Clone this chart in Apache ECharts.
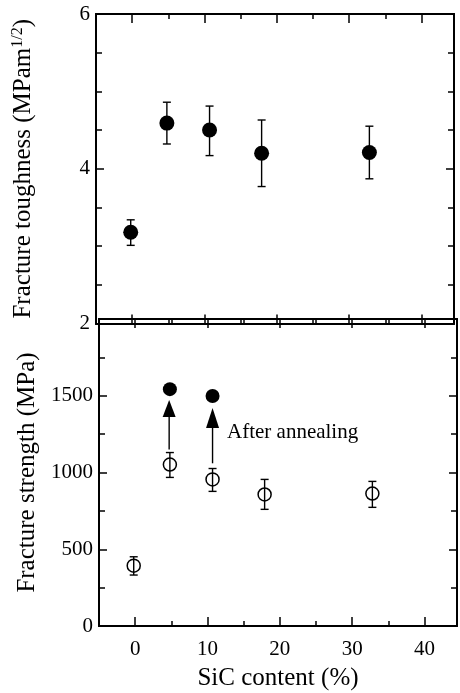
<!DOCTYPE html>
<html>
<head>
<meta charset="utf-8">
<script src="https://cdn.jsdelivr.net/npm/echarts@6/dist/echarts.min.js"></script>
<style>
html,body{margin:0;padding:0;background:#fff;}
#chart{width:460px;height:693px;}
</style>
</head>
<body>
<div id="chart"></div>
<script>
// ---- data ----
const sicX = [-0.2, 4.8, 10.7, 17.9, 32.8];
const toughness = [3.18, 4.59, 4.50, 4.20, 4.21];
const toughLo = [3.01, 4.32, 4.17, 3.77, 3.87];
const toughHi = [3.34, 4.86, 4.81, 4.63, 4.55];
const strength = [393, 1052, 955, 857, 863];
const strengthLo = [332, 968, 877, 760, 773];
const strengthHi = [451, 1130, 1026, 955, 942];
const annealX = [4.8, 10.7];
const annealStrength = [1543, 1498];
const arrowX = [4.7, 10.7];
const arrowFrom = [1150, 1060];
const arrowBase = [1362, 1290];
const arrowTip = [1472, 1420];
const xMajorTicks = [0, 10, 20, 30, 40];
const xMinorTicks = [5, 15, 25, 35];
const annotationText = 'After annealing';

const FONT = 'Liberation Serif';
const black = '#000';

function xAx(gridIndex, position, values, len, labels) {
  return {
    type: 'value', gridIndex, position, min: -5, max: 44.5,
    axisLine: {show: true, onZero: false, lineStyle: {color: black, width: 2}},
    axisTick: {show: true, inside: true, length: len, customValues: values, lineStyle: {color: black, width: 1.5}},
    axisLabel: labels ? {show: true, customValues: values, color: black, fontFamily: FONT, fontSize: 21, margin: 13} : {show: false},
    splitLine: {show: false}
  };
}

const xAxes = [
  xAx(0, 'bottom', xMajorTicks, 9, false),
  xAx(0, 'top', xMajorTicks, 9, false),
  xAx(1, 'bottom', xMajorTicks, 9, true),
  xAx(1, 'top', xMajorTicks, 9, false),
  xAx(0, 'bottom', xMinorTicks, 5, false),
  xAx(0, 'top', xMinorTicks, 5, false),
  xAx(1, 'bottom', xMinorTicks, 5, false),
  xAx(1, 'top', xMinorTicks, 5, false)
];
xAxes[2].name = 'SiC content (%)';
xAxes[2].nameLocation = 'middle';
xAxes[2].nameGap = 40;
xAxes[2].nameTextStyle = {color: black, fontFamily: FONT, fontSize: 25};

function yAx(gridIndex, position, min, max, interval, minorSplit, labels, fmt) {
  return {
    type: 'value', gridIndex, position, min, max, interval,
    axisLine: {show: true, onZero: false, lineStyle: {color: black, width: 2}},
    axisTick: {show: true, inside: true, length: 8, lineStyle: {color: black, width: 1.5}},
    minorTick: {show: true, splitNumber: minorSplit, length: 6, lineStyle: {color: black, width: 1.5}},
    axisLabel: labels ? {show: true, color: black, fontFamily: FONT, fontSize: 21, margin: 6, formatter: fmt} : {show: false},
    splitLine: {show: false}, minorSplitLine: {show: false}
  };
}

const yAxes = [
  yAx(0, 'left', 2, 6, 2, 4, true, v => String(v)),
  yAx(1, 'left', 0, 2000, 500, 2, true, v => v === 2000 ? '' : String(v)),
  yAx(0, 'right', 2, 6, 2, 4, false),
  yAx(1, 'right', 0, 2000, 500, 2, false)
];
yAxes[0].name = 'Fracture toughness (MPam{sup|1/2})';
yAxes[0].nameLocation = 'middle';
yAxes[0].nameGap = 60;
yAxes[0].nameTextStyle = {color: black, fontFamily: FONT, fontSize: 25,
  rich: {sup: {fontFamily: FONT, fontSize: 16, verticalAlign: 'top', padding: [0, 0, 10, 0], color: black}}};
yAxes[1].name = 'Fracture strength (MPa)';
yAxes[1].nameLocation = 'middle';
yAxes[1].nameGap = 58;
yAxes[1].nameTextStyle = {color: black, fontFamily: FONT, fontSize: 25};

function errRender(params, api) {
  const x = api.value(0), lo = api.value(1), hi = api.value(2);
  const p1 = api.coord([x, lo]), p2 = api.coord([x, hi]);
  const c = 4;
  const st = {stroke: black, lineWidth: 1.4};
  return {type: 'group', children: [
    {type: 'line', shape: {x1: p1[0], y1: p1[1], x2: p2[0], y2: p2[1]}, style: st},
    {type: 'line', shape: {x1: p2[0] - c, y1: p2[1], x2: p2[0] + c, y2: p2[1]}, style: st},
    {type: 'line', shape: {x1: p1[0] - c, y1: p1[1], x2: p1[0] + c, y2: p1[1]}, style: st}
  ]};
}

function arrowRender(params, api) {
  const x = api.value(0);
  const a = api.coord([x, api.value(1)]);
  const b = api.coord([x, api.value(2)]);
  const t = api.coord([x, api.value(3)]);
  const w = 6.5;
  return {type: 'group', children: [
    {type: 'line', shape: {x1: a[0], y1: a[1], x2: b[0], y2: b[1]}, style: {stroke: black, lineWidth: 1.4}},
    {type: 'polygon', shape: {points: [[b[0] - w, b[1]], [b[0] + w, b[1]], [t[0], t[1]]]}, style: {fill: black}}
  ]};
}

const option = {
  backgroundColor: '#fff',
  animation: false,
  grid: [
    {left: 96, right: 6, top: 14, height: 309.5},
    {left: 99, right: 3, top: 319, height: 307}
  ],
  xAxis: xAxes,
  yAxis: yAxes,
  graphic: [{
    type: 'text', left: 227, top: 422,
    style: {text: annotationText, fill: black, font: '21px "Liberation Serif"'}
  }],
  series: [
    {type: 'custom', xAxisIndex: 0, yAxisIndex: 0, renderItem: errRender,
     encode: {x: 0, y: [1, 2]}, data: sicX.map((x, i) => [x, toughLo[i], toughHi[i]]), z: 2},
    {type: 'scatter', xAxisIndex: 0, yAxisIndex: 0, symbol: 'circle', symbolSize: 15,
     itemStyle: {color: black, opacity: 1}, data: sicX.map((x, i) => [x, toughness[i]]), z: 3},
    {type: 'custom', xAxisIndex: 2, yAxisIndex: 1, renderItem: errRender,
     encode: {x: 0, y: [1, 2]}, data: sicX.map((x, i) => [x, strengthLo[i], strengthHi[i]]), z: 2},
    {type: 'scatter', xAxisIndex: 2, yAxisIndex: 1, symbol: 'circle', symbolSize: 13,
     itemStyle: {color: 'rgba(0,0,0,0)', borderColor: black, borderWidth: 1.5, opacity: 1},
     data: sicX.map((x, i) => [x, strength[i]]), z: 3},
    {type: 'scatter', xAxisIndex: 2, yAxisIndex: 1, symbol: 'circle', symbolSize: 14,
     itemStyle: {color: black, opacity: 1}, data: annealX.map((x, i) => [x, annealStrength[i]]), z: 3},
    {type: 'custom', xAxisIndex: 2, yAxisIndex: 1, renderItem: arrowRender,
     encode: {x: 0, y: [1, 2, 3]}, data: arrowX.map((x, i) => [x, arrowFrom[i], arrowBase[i], arrowTip[i]]), z: 2}
  ]
};

const chart = echarts.init(document.getElementById('chart'), null, {renderer: 'canvas'});
chart.setOption(option);
</script>
</body>
</html>
